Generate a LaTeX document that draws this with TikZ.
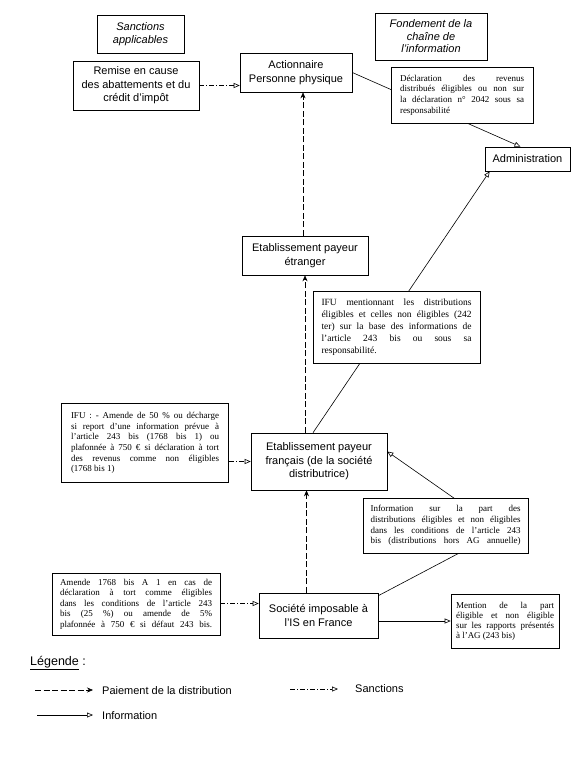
\documentclass[tikz,border=0pt]{standalone}
\usepackage{fontspec}
\setmainfont{Liberation Serif}
\setsansfont{Liberation Sans}
\usetikzlibrary{arrows.meta,calc}
\pgfdeclarelayer{bg}
\pgfsetlayers{bg,main}
\begin{document}
\begin{tikzpicture}[x=1pt,y=-1pt,
  box/.style={draw, line width=0.6pt, fill=white, inner sep=0pt, align=center,
    font=\sffamily\fontsize{11}{13.5}\selectfont},
  ibox/.style={box, font=\sffamily\itshape\fontsize{11}{12.5}\selectfont},
  note/.style={draw, line width=0.6pt, fill=white, inner sep=0pt, align=justify,
    font=\rmfamily\fontsize{9}{10.6}\selectfont},
  lbl/.style={anchor=west, inner sep=0pt, font=\sffamily\fontsize{11}{13}\selectfont},
  pay/.style={line width=0.6pt, dash pattern=on 6pt off 2.5pt, -{Stealth[length=6pt,width=5pt]}},
  info/.style={line width=0.6pt, -{Triangle[open,length=6pt,width=5pt]}},
  sanc/.style={line width=0.6pt, dash pattern=on 5pt off 2pt on 1pt off 2pt, -{Triangle[open,length=6pt,width=5pt]}}
]
\useasboundingbox (0,0) rectangle (586,768);

% ---------- headers ----------
\node[ibox, minimum width=87pt, minimum height=38pt] (sanctitle) at (140.5,34) {Sanctions\\applicables};
\node[ibox, minimum width=112pt, minimum height=47pt] (fondtitle) at (431,36.5) {Fondement de la\\chaîne de\\l'information};

% ---------- main boxes ----------
\node[box, minimum width=126pt, minimum height=49pt] (remise) at (136,85.5) {Remise en cause\\des abattements et du\\crédit d'impôt};
\node[box, minimum width=112pt, minimum height=39pt] (action) at (296,72.5) {Actionnaire\\Personne physique};
\node[box, minimum width=85pt, minimum height=24pt] (admin) at (527.5,159) {Administration};
\node[box, minimum width=126pt, minimum height=39pt] (etabetr) at (305,255.5) {Etablissement payeur\\étranger};
\node[box, minimum width=136pt, minimum height=57pt] (etabfr) at (319,461.5) {Etablissement payeur\\français (de la société\\distributrice)};
\node[box, minimum width=119pt, minimum height=45pt] (societe) at (318.5,615.5) {Société imposable à\\l'IS en France};

% ---------- notes ----------
\node[note, text width=124pt, minimum width=142pt, minimum height=56pt] (declar) at (462,95)
  {Déclaration des revenus\linebreak distribués éligibles ou non sur\linebreak la déclaration n° 2042 sous sa\linebreak responsabilité};
\node[note, font=\rmfamily\fontsize{9.5}{12}\selectfont, text width=150pt, minimum width=167pt, minimum height=72pt] (ifu) at (396.5,327)
  {IFU mentionnant les distributions\linebreak éligibles et celles non éligibles (242\linebreak ter) sur la base des informations de\linebreak l'article 243 bis ou sous sa\linebreak responsabilité.};
\node[note, font=\rmfamily\fontsize{9}{10.7}\selectfont, text width=148pt, minimum width=167pt, minimum height=79pt] (ifusanc) at (145,443)
  {IFU : - Amende de 50 \% ou décharge\linebreak si report d'une information prévue à\linebreak l'article 243 bis (1768 bis 1) ou\linebreak plafonnée à 750 € si déclaration à tort\linebreak des revenus comme non éligibles\linebreak (1768 bis 1)};
\node[note, font=\rmfamily\fontsize{9}{10.7}\selectfont, text width=150pt, minimum width=165pt, minimum height=55pt] (infopart) at (445.5,525.5)
  {Information sur la part des\linebreak distributions éligibles et non éligibles\linebreak dans les conditions de l'article 243\linebreak \makebox[\linewidth][s]{bis (distributions hors AG annuelle)}};
\node[note, font=\rmfamily\fontsize{9}{10.5}\selectfont, text width=152pt, minimum width=168pt, minimum height=62pt] (amende) at (136,604)
  {Amende 1768 bis A 1 en cas de\linebreak déclaration à tort comme éligibles\linebreak dans les conditions de l'article 243\linebreak bis (25 \%) ou amende de 5\%\linebreak \makebox[\linewidth][s]{plafonnée à 750 € si défaut 243 bis.}};
\node[note, font=\rmfamily\fontsize{9}{9.9}\selectfont, text width=98pt, minimum width=108pt, minimum height=54pt] (mention) at (505,621)
  {Mention de la part\linebreak éligible et non éligible\linebreak sur les rapports présentés\linebreak à l'AG (243 bis)};

% ---------- connectors ----------
\begin{pgfonlayer}{bg}
  \draw[sanc] (remise.east) -- (remise.east -| action.west);
  \draw[info] (action.east) -- ([xshift=-7pt]admin.north);
  \draw[info] ([xshift=-6pt]etabfr.north) -- ([xshift=5pt]admin.south west);
  \draw[pay] (etabfr.north -| etabetr.south) -- (etabetr.south);
  \draw[pay] ([xshift=-2pt]etabetr.north) -- ([xshift=-2pt]etabetr.north |- action.south);
  \draw[pay] ([xshift=-12pt]societe.north) -- ([xshift=-12pt]societe.north |- etabfr.south);
  \draw[sanc] (ifusanc.east |- etabfr.west) -- (etabfr.west);
  \draw[sanc] ([yshift=12pt]societe.west -| amende.east) -- ([yshift=12pt]societe.west);
  \draw[info] ([yshift=-3pt]societe.north east) -- (501,531) -- ([yshift=10pt]etabfr.east);
  \draw[info] (societe.east |- mention.west) -- (mention.west);
\end{pgfonlayer}

% ---------- legend ----------
\node[lbl, font=\sffamily\fontsize{12.5}{14}\selectfont] (legtitle) at (30,663) {\underline{Légende} :};
\coordinate (pa) at (35,690); \coordinate (pb) at (93,690);
\draw[pay] (pa) -- (pb);
\node[lbl] (paytxt) at (102,691) {Paiement de la distribution};
\coordinate (sa) at (290,689); \coordinate (sb) at (338,689);
\draw[sanc] (sa) -- (sb);
\node[lbl] (sanctxt) at (355,689) {Sanctions};
\coordinate (ia) at (37,715); \coordinate (ib) at (93,715);
\draw[info] (ia) -- (ib);
\node[lbl] (infotxt) at (102,716) {Information};
\end{tikzpicture}
\end{document}
